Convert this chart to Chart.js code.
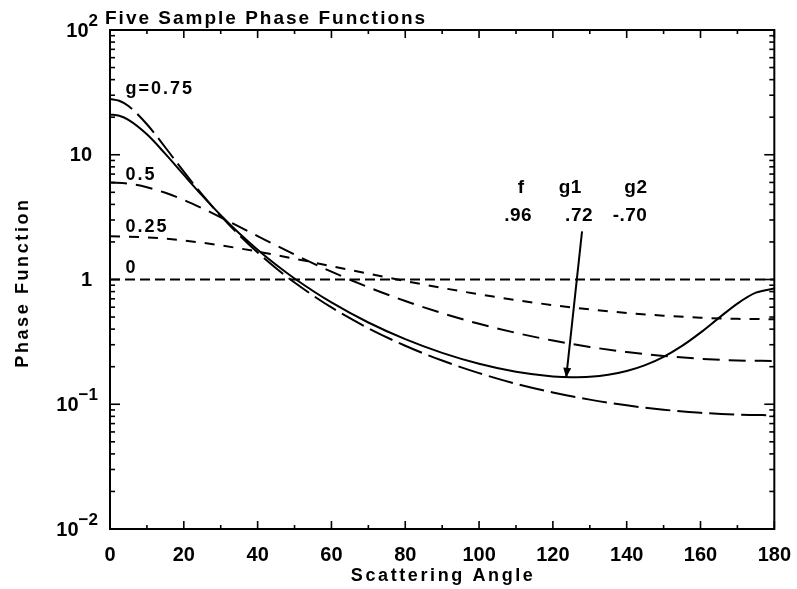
<!DOCTYPE html>
<html><head><meta charset="utf-8">
<style>html,body{margin:0;padding:0;background:#fff}canvas{display:block}</style>
<script src="https://cdn.jsdelivr.net/npm/chart.js@4/dist/chart.umd.min.js"></script>
</head><body>
<canvas id="c" width="797" height="589"></canvas>
<script>
// ---- data ----
const titleText = 'Five Sample Phase Functions';
const xAxisTitle = 'Scattering Angle';
const yAxisTitle = 'Phase Function';
const xTickValues = [0,20,40,60,80,100,120,140,160,180];
const yTickValues = [0.01,0.1,1,10,100];
const yTickBase = ['10','10','1','10','10'];
const yTickExp = ['\u22122','\u22121','','','2'];

const angles_g0 = [0,180];
const phase_g0 = [1,1];

const angles_g025 = [0,10,20,30,40,50,60,70,80,90,100,110,120,130,140,150,160,170,180];
const phase_g025 = [2.222,2.178,2.055,1.877,1.674,1.469,1.280,1.114,0.973,0.856,0.761,0.684,0.623,0.576,0.539,0.513,0.494,0.484,0.480];

const angles_g05 = [0,5,10,15,20,25,30,40,50,60,70,80,90,100,110,120,130,140,150,160,170,180];
const phase_g05 = [6.0,5.865,5.492,4.954,4.339,3.722,3.152,2.228,1.585,1.155,0.867,0.672,0.537,0.4415,0.3734,0.324,0.288,0.262,0.2437,0.2315,0.2245,0.2222];

const angles_g075 = [0,2.5,5,10,15,20,25,30,35,40,45,50,60,70,80,90,100,110,120,130,140,150,160,170,180];
const phase_g075 = [28.0,27.07,24.56,17.57,11.43,7.313,4.782,3.235,2.269,1.646,1.231,0.945,0.597,0.407,0.2945,0.224,0.1777,0.146,0.1244,0.1089,0.098,0.0904,0.0854,0.0826,0.0816];

const angles_dhg = [0,2.5,5,10,15,20,25,30,35,40,45,50,60,70,80,90,100,110,120,125,130,135,140,145,150,155,160,165,170,175,180];
const phase_dhg = [21.07,20.52,19.03,14.57,10.16,6.89,4.70,3.276,2.349,1.7325,1.312,1.0185,0.6544,0.4523,0.3326,0.2583,0.2112,0.1822,0.1671,0.1646,0.1660,0.1721,0.1845,0.2058,0.2400,0.2936,0.3750,0.4924,0.6415,0.7842,0.8465];

const curveLabels = ['g=0.75','0.5','0.25','0'];
const tableHead = ['f','g1','g2'];
const tableVals = ['.96','.72','-.70'];

// ---- chart ----
const pts = (xs, ys) => xs.map((a,i)=>({x:a,y:ys[i]}));
const FONT = '"Liberation Sans", Arial, sans-serif';

const deco = {
  id:'deco',
  beforeDraw(chart){
    const c=chart.ctx; c.save(); c.fillStyle='#fff'; c.fillRect(0,0,chart.width,chart.height); c.restore();
  },
  afterDraw(chart){
    const ctx=chart.ctx, a=chart.chartArea, x=chart.scales.x, y=chart.scales.y;
    const line=(x1,y1,x2,y2)=>{ctx.beginPath();ctx.moveTo(x1,y1);ctx.lineTo(x2,y2);ctx.stroke();};
    ctx.save();
    ctx.strokeStyle='#000'; ctx.fillStyle='#000';
    // frame
    ctx.lineWidth=2;
    ctx.strokeRect(a.left,a.top,a.right-a.left,a.bottom-a.top);
    // x ticks (inward, top and bottom)
    ctx.lineWidth=1.6;
    for(let v=0; v<=180; v+=10){
      const px=x.getPixelForValue(v); const L=(v%20===0)?8:4;
      line(px,a.bottom,px,a.bottom-L); line(px,a.top,px,a.top+L);
    }
    // y ticks (inward, left and right)
    for(let e=-2;e<=2;e++){
      for(let m=1;m<=9;m++){
        const v=m*Math.pow(10,e); if(v>100.0001) break;
        const py=y.getPixelForValue(v); const L=(m===1)?10:5;
        line(a.left,py,a.left+L,py); line(a.right,py,a.right-L,py);
      }
    }
    // y tick labels with superscripts
    ctx.textBaseline='middle';
    yTickValues.forEach((v,i)=>{
      const py=y.getPixelForValue(v);
      const exp=yTickExp[i];
      if(exp){
        ctx.font='bold 17px '+FONT; ctx.textAlign='right';
        const w=ctx.measureText(exp).width;
        const rx=a.left-12;
        ctx.fillText(exp,rx,py-9);
        ctx.font='bold 20px '+FONT;
        ctx.fillText(yTickBase[i],rx-w,py+1);
      } else {
        ctx.font='bold 20px '+FONT; ctx.textAlign='right';
        ctx.fillText(yTickBase[i],a.left-18,py+1);
      }
    });
    // title
    ctx.textBaseline='alphabetic'; ctx.textAlign='left';
    ctx.font='bold 19px '+FONT; ctx.letterSpacing='2px';
    ctx.fillText(titleText,a.left-5,a.top-6);
    // x axis title
    ctx.textAlign='center'; ctx.font='bold 18px '+FONT; ctx.letterSpacing='2.6px';
    ctx.fillText(xAxisTitle,(a.left+a.right)/2+1,a.bottom+52);
    // y axis title
    ctx.save();
    ctx.translate(28,(a.top+a.bottom)/2+3); ctx.rotate(-Math.PI/2);
    ctx.fillText(yAxisTitle,0,0);
    ctx.restore();
    // curve labels
    ctx.letterSpacing='2px';
    ctx.textAlign='left'; ctx.font='bold 18px '+FONT;
    const lx=x.getPixelForValue(4.2);
    const labelY=[30.5,6.3,2.4,1.12];
    curveLabels.forEach((t,i)=>ctx.fillText(t,lx,y.getPixelForValue(labelY[i])));
    // table of parameters
    ctx.textAlign='center'; ctx.font='bold 19px '+FONT; ctx.letterSpacing='0.5px';
    const headX=[111.4,124.7,142.5];
    const valX=[110.6,127.1,140.9];
    tableHead.forEach((t,i)=>ctx.fillText(t,x.getPixelForValue(headX[i]),y.getPixelForValue(4.9)));
    tableVals.forEach((t,i)=>ctx.fillText(t,x.getPixelForValue(valX[i]),y.getPixelForValue(2.93)));
    // arrow pointing to the double HG minimum
    const x1=x.getPixelForValue(127.9), y1=y.getPixelForValue(2.43);
    const x2=x.getPixelForValue(123.6), y2=y.getPixelForValue(0.163);
    ctx.lineWidth=2; line(x1,y1,x2,y2);
    const ang=Math.atan2(y2-y1,x2-x1), hl=10, hw=4;
    ctx.beginPath();
    ctx.moveTo(x2,y2);
    ctx.lineTo(x2-hl*Math.cos(ang)+hw*Math.sin(ang), y2-hl*Math.sin(ang)-hw*Math.cos(ang));
    ctx.lineTo(x2-hl*Math.cos(ang)-hw*Math.sin(ang), y2-hl*Math.sin(ang)+hw*Math.cos(ang));
    ctx.closePath(); ctx.fill();
    ctx.restore();
  }
};

const ds = (data, dash) => ({data, borderColor:'#000', borderWidth:2, borderDash:dash, pointRadius:0, fill:false, cubicInterpolationMode:'monotone'});

new Chart(document.getElementById('c'), {
  type:'line',
  data:{datasets:[
    ds(pts(angles_g0,phase_g0),[10,5]),
    ds(pts(angles_g025,phase_g025),[10,9]),
    ds(pts(angles_g05,phase_g05),[17,9]),
    ds(pts(angles_g075,phase_g075),[25,7]),
    ds(pts(angles_dhg,phase_dhg),[])
  ]},
  options:{
    responsive:false, animation:false,
    layout:{padding:{top:30,right:20,left:0,bottom:0}},
    plugins:{legend:{display:false},tooltip:{enabled:false},title:{display:false}},
    scales:{
      x:{type:'linear',min:0,max:180,
         afterBuildTicks:s=>{s.ticks=xTickValues.map(v=>({value:v}));},
         afterFit:s=>{s.height=60;},
         grid:{display:false}, border:{display:false},
         ticks:{color:'#000',font:{family:FONT,size:20,weight:'bold'},padding:6,maxRotation:0}},
      y:{type:'logarithmic',min:0.01,max:100,
         afterBuildTicks:s=>{s.ticks=yTickValues.map(v=>({value:v}));},
         afterFit:s=>{s.width=110;},
         grid:{display:false}, border:{display:false},
         ticks:{display:false}}
    }
  },
  plugins:[deco]
});
</script>
</body></html>
